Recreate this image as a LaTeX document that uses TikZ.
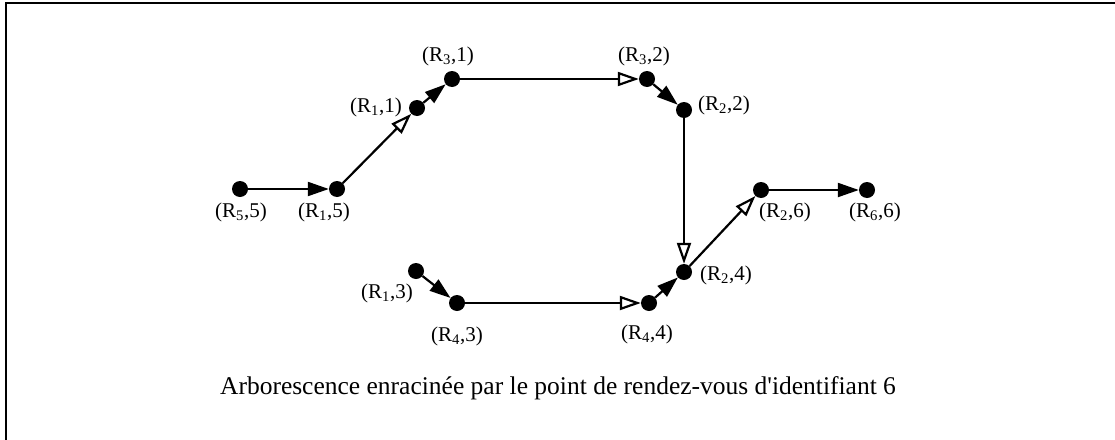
\documentclass[tikz,border=0pt]{standalone}
\usepackage{fontspec}
\setmainfont{Liberation Serif}
\usetikzlibrary{arrows.meta}
\begin{document}
\begin{tikzpicture}[x=1pt,y=-1pt,
  dot/.style={circle,fill=black,inner sep=0pt,minimum size=16pt},
  lbl/.style={inner sep=0pt,font=\fontsize{21}{24}\selectfont},
  edge/.style={line width=2.2pt},
  full/.style={edge,-{Triangle[length=21pt,width=14pt]}},
  hollow/.style={edge,-{Triangle[open,length=21pt,width=14pt,fill=white]}}]
\useasboundingbox (0,0) rectangle (1115,439);
\draw[line width=2.2pt] (6,445) -- (6,3) -- (1120,3);
% dots
\node[dot] (r55) at (240,189) {};
\node[dot] (r15) at (337,189) {};
\node[dot] (r11) at (417,108) {};
\node[dot] (r31) at (452,79) {};
\node[dot] (r32) at (647,79) {};
\node[dot] (r22) at (684,110) {};
\node[dot] (r24) at (684,272) {};
\node[dot] (r26) at (761,190) {};
\node[dot] (r66) at (867,190) {};
\node[dot] (r13) at (416,271) {};
\node[dot] (r43) at (457,303) {};
\node[dot] (r44) at (649,303) {};
% labels
\node[lbl] (l55) at (241,212) {(R\textsubscript{5},5)};
\node[lbl] (l15) at (324,212) {(R\textsubscript{1},5)};
\node[lbl] (l11) at (376,107) {(R\textsubscript{1},1)};
\node[lbl] (l31) at (448,56) {(R\textsubscript{3},1)};
\node[lbl] (l32) at (644,56) {(R\textsubscript{3},2)};
\node[lbl] (l22) at (724,105) {(R\textsubscript{2},2)};
\node[lbl] (l24) at (726,275) {(R\textsubscript{2},4)};
\node[lbl] (l26) at (785,212) {(R\textsubscript{2},6)};
\node[lbl] (l66) at (875,212) {(R\textsubscript{6},6)};
\node[lbl] (l13) at (387,293) {(R\textsubscript{1},3)};
\node[lbl] (l43) at (457,336) {(R\textsubscript{4},3)};
\node[lbl] (l44) at (647,334) {(R\textsubscript{4},4)};
\node[inner sep=0pt,font=\fontsize{25.5}{28}\selectfont] (cap) at (558,388) {Arborescence enracinée par le point de rendez-vous d\textquotesingle identifiant 6};
% edges
\draw[full] (r55) -- (r15);
\draw[hollow] (r15) -- (r11);
\draw[full] (r11) -- (r31);
\draw[hollow] (r31) -- (r32);
\draw[full] (r32) -- (r22);
\draw[hollow] (r22) -- (r24);
\draw[hollow] (r24) -- (r26);
\draw[full] (r26) -- (r66);
\draw[full] (r13) -- (r43);
\draw[hollow] (r43) -- (r44);
\draw[full] (r44) -- (r24);
\end{tikzpicture}
\end{document}
